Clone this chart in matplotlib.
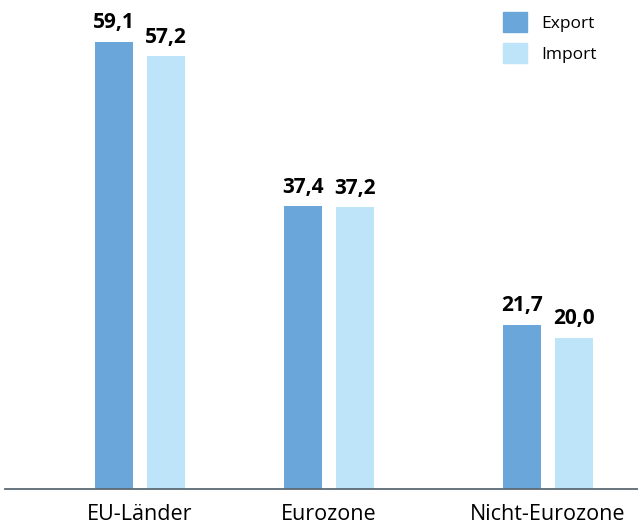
import matplotlib
matplotlib.use("Agg")
import matplotlib.pyplot as plt
from matplotlib.patches import Patch

categories = ["EU-Länder", "Eurozone", "Nicht-Eurozone"]
export_vals = [59.1, 37.4, 21.7]
import_vals = [57.2, 37.2, 20.0]
export_labels = ["59,1", "37,4", "21,7"]
import_labels = ["57,2", "37,2", "20,0"]

# layout (pixel-like positions)
group_pos = [135, 324, 543]
offset = 26
bar_w = 38

c_exp = "#6aa6da"
c_imp = "#bde4f8"

plt.rcParams['font.family'] = ['Open Sans', 'DejaVu Sans']

fig = plt.figure(figsize=(6.38, 5.27), dpi=100)
ax = fig.add_axes([5/638, 38/527, 633/638, 489/527])
ax.set_xlim(0, 633)
ax.set_ylim(0, 489/7.57)

xe = [g - offset for g in group_pos]
xi = [g + offset for g in group_pos]
ax.bar(xe, export_vals, width=bar_w, color=c_exp, label="Export")
ax.bar(xi, import_vals, width=bar_w, color=c_imp, label="Import")

for x, v, t in zip(xe, export_vals, export_labels):
    ax.annotate(t, (x, v), xytext=(0, 6), textcoords="offset points",
                ha="center", va="bottom", fontsize=15, fontweight="bold")
for x, v, t in zip(xi, import_vals, import_labels):
    ax.annotate(t, (x, v), xytext=(0, 6), textcoords="offset points",
                ha="center", va="bottom", fontsize=15, fontweight="bold")

ax.set_xticks(group_pos)
ax.set_xticklabels(categories, fontsize=15.5)
ax.tick_params(axis="x", length=0, pad=11)
ax.set_yticks([])
for s in ["top", "right", "left"]:
    ax.spines[s].set_visible(False)
ax.spines["bottom"].set_color("#5c6a74")
ax.spines["bottom"].set_linewidth(1.3)

handles = [Patch(color=c_exp, label="Export"), Patch(color=c_imp, label="Import")]
leg = fig.legend(handles=handles, loc="upper left",
                 bbox_to_anchor=(503/638, 1 - 12/527),
                 frameon=False, fontsize=12.5, handlelength=1.4, handleheight=1.4,
                 handletextpad=0.8, labelspacing=0.65, borderaxespad=0, borderpad=0)

fig.savefig("out.png", dpi=100)
